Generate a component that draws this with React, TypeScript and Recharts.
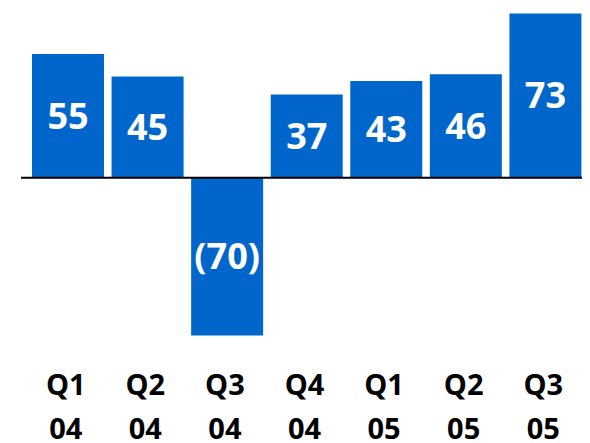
import { BarChart, Bar, XAxis, YAxis, ReferenceLine, LabelList } from 'recharts';

const quarters = ['Q1', 'Q2', 'Q3', 'Q4', 'Q1', 'Q2', 'Q3'];
const years = ['04', '04', '04', '04', '05', '05', '05'];
const values = [55, 45, -70, 37, 43, 46, 73];

const BLUE = '#0066cc';
const FONT = '"Open Sans", "DejaVu Sans", sans-serif';

const chartData = quarters.map((q, i) => ({ name: `${q} ${years[i]}`, q, yr: years[i], value: values[i] }));

const formatValue = (v: any) => (v < 0 ? `(${Math.abs(v)})` : `${v}`);

// two-line quarter / year label under each bar
const QuarterTick = ({ x, y, index }: any) => (
  <g>
    <text x={x - 2} y={y + 25} textAnchor="middle" dominantBaseline="central" fontFamily={FONT} fontWeight={700} fontSize={29} fill="#000">
      {quarters[index]}
    </text>
    <text x={x - 2} y={y + 69} textAnchor="middle" dominantBaseline="central" fontFamily={FONT} fontWeight={700} fontSize={29} fill="#000">
      {years[index]}
    </text>
  </g>
);

export default function App() {
  return (
    <BarChart width={582} height={435} data={chartData} margin={{ top: 1, right: 5, bottom: 0, left: 20 }}>
      <XAxis dataKey="name" axisLine={false} tickLine={false} tickSize={0} tickMargin={0} height={85} interval={0} tick={<QuarterTick />} />
      <YAxis hide domain={[-80, 75]} />
      <Bar dataKey="value" fill={BLUE} barSize={72} isAnimationActive={false}>
        <LabelList dataKey="value" position="center" formatter={formatValue} fill="#fff" fontFamily={FONT} fontWeight={700} fontSize={36} />
      </Bar>
      <ReferenceLine
        y={0}
        stroke="#000"
        strokeWidth={2}
        shape={(p: any) => <line x1={p.x1 - 7} x2={p.x2} y1={p.y1} y2={p.y2} stroke="#000" strokeWidth={2} />}
      />
    </BarChart>
  );
}
